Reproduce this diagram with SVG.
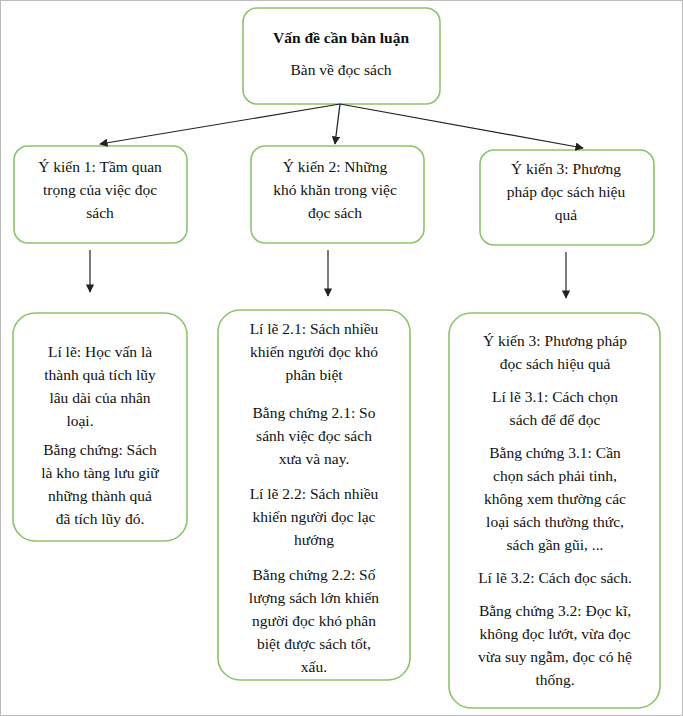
<svg xmlns="http://www.w3.org/2000/svg" width="683" height="716" viewBox="0 0 683 716">
<style>
.b{fill:#fff;stroke:#8cc46a;stroke-width:1.6}
text{font-family:"Liberation Serif",serif;font-size:15.5px;fill:#111;text-anchor:middle}
.c{stroke:#222;stroke-width:1.2;fill:none;marker-end:url(#a)}
</style>
<defs><marker id="a" viewBox="0 0 10 10" refX="9" refY="5" markerWidth="7" markerHeight="7" orient="auto"><path d="M0,0L10,5L0,10z" fill="#222"/></marker></defs>
<rect x="0.5" y="0.5" width="682" height="715" fill="#fff" stroke="#bbb"/>
<g id="top"><rect class="b" x="243" y="8" width="197" height="96" rx="14"/>
<text x="341" y="43" font-weight="bold">Vấn đề cần bàn luận</text><text x="341" y="75">Bàn về đọc sách</text></g>
<g id="yk1"><rect class="b" x="14" y="146" width="173" height="97" rx="14"/>
<text x="100" y="172">Ý kiến 1: Tầm quan</text><text x="100" y="195">trọng của việc đọc</text><text x="100" y="218">sách</text></g>
<g id="yk2"><rect class="b" x="251" y="146" width="173" height="97" rx="14"/>
<text x="335" y="172">Ý kiến 2: Những</text><text x="335" y="195">khó khăn trong việc</text><text x="335" y="218">đọc sách</text></g>
<g id="yk3"><rect class="b" x="480" y="150" width="174" height="95" rx="14"/>
<text x="566" y="174">Ý kiến 3: Phương</text><text x="566" y="197">pháp đọc sách hiệu</text><text x="566" y="220">quả</text></g>
<g id="l1"><rect class="b" x="13" y="313" width="174" height="228" rx="22"/>
<text x="100" y="357">Lí lẽ: Học vấn là</text><text x="100" y="380">thành quả tích lũy</text><text x="100" y="403">lâu dài của nhân</text><text x="80" y="426">loại.</text>
<text x="100" y="455">Bằng chứng: Sách</text><text x="100" y="478">là kho tàng lưu giữ</text><text x="100" y="501">những thành quả</text><text x="100" y="524">đã tích lũy đó.</text></g>
<g id="l2"><rect class="b" x="218" y="310" width="192" height="370" rx="22"/>
<text x="314" y="334">Lí lẽ 2.1: Sách nhiều</text><text x="314" y="357">khiến người đọc khó</text><text x="314" y="380">phân biệt</text>
<text x="314" y="418">Bằng chứng 2.1: So</text><text x="314" y="441">sánh việc đọc sách</text><text x="314" y="464">xưa và nay.</text>
<text x="314" y="499">Lí lẽ 2.2: Sách nhiều</text><text x="314" y="522">khiến người đọc lạc</text><text x="314" y="545">hướng</text>
<text x="314" y="580">Bằng chứng 2.2: Số</text><text x="314" y="603">lượng sách lớn khiến</text><text x="314" y="626">người đọc khó phân</text><text x="314" y="649">biệt được sách tốt,</text><text x="314" y="672">xấu.</text></g>
<g id="l3"><rect class="b" x="449" y="313" width="211" height="395" rx="22"/>
<text x="555" y="346">Ý kiến 3: Phương pháp</text><text x="555" y="369">đọc sách hiệu quả</text>
<text x="555" y="402">Lí lẽ 3.1: Cách chọn</text><text x="555" y="425">sách để để đọc</text>
<text x="555" y="458">Bằng chứng 3.1: Cần</text><text x="555" y="481">chọn sách phải tinh,</text><text x="555" y="504">không xem thường các</text><text x="555" y="527">loại sách thường thức,</text><text x="555" y="550">sách gần gũi, ...</text>
<text x="555" y="583">Lí lẽ 3.2: Cách đọc sách.</text>
<text x="555" y="616">Bằng chứng 3.2: Đọc kĩ,</text><text x="555" y="639">không đọc lướt, vừa đọc</text><text x="555" y="662">vừa suy ngẫm, đọc có hệ</text><text x="555" y="685">thống.</text></g>
<g id="connectors">
<path class="c" d="M340,104L100,144"/><path class="c" d="M340,104L335,144"/><path class="c" d="M340,104L583,148"/>
<path class="c" d="M90,250V292"/><path class="c" d="M328,250V296"/><path class="c" d="M566,252V298"/>
</g>
</svg>
